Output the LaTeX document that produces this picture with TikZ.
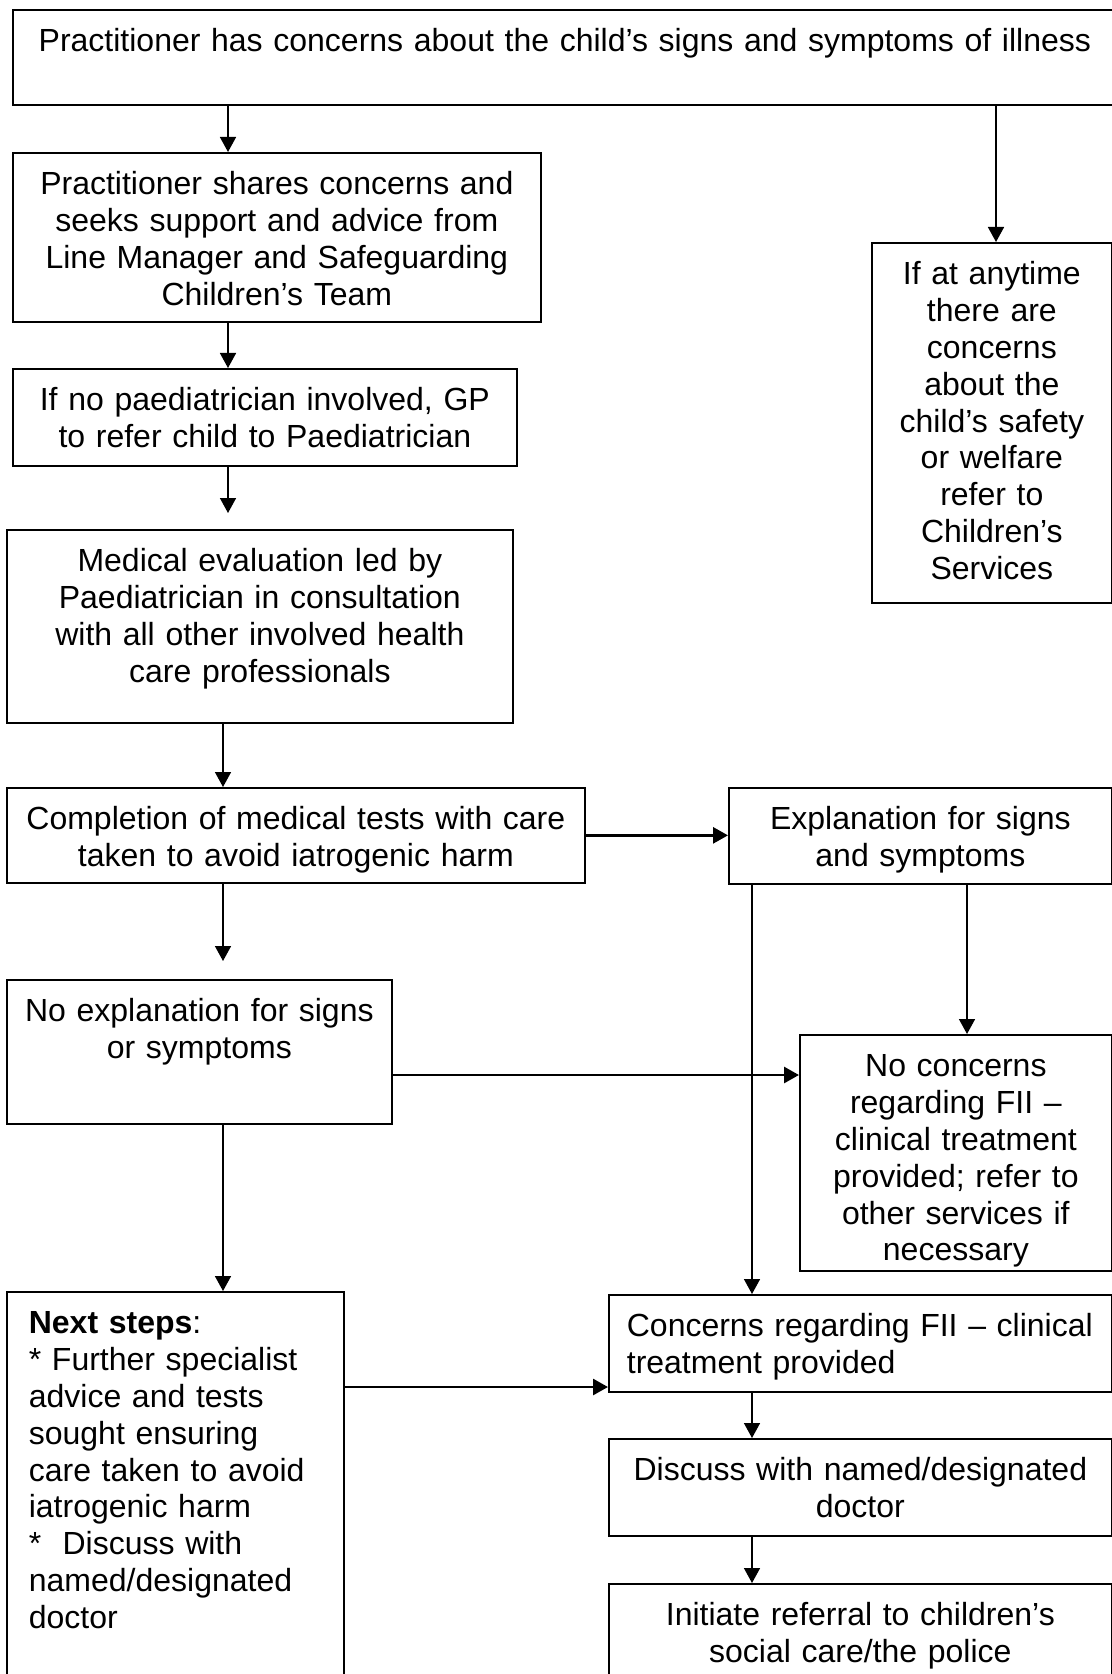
\documentclass[tikz,border=0pt]{standalone}
\usepackage{fontspec}
\setmainfont{Liberation Sans}
\usetikzlibrary{positioning, calc, arrows.meta}
\hyphenpenalty=10000

\begin{document}
\begin{tikzpicture}[x=0.5pt, y=-0.5pt, >={Triangle[length=7.5pt,width=8pt]},
  font=\fontsize{16pt}{18.4pt}\selectfont,
  box/.style={draw, line width=0.85pt, anchor=north west, inner xsep=6pt,
    inner ysep=0pt, align=center, text height=21pt},
  link/.style={->, line width=0.8pt},
  wide link/.style={->, line width=1.4pt}]

\useasboundingbox (0,0) rectangle (1112,1674);

% columns and rows for the connectors
\coordinate (col-a) at (228,0);
\coordinate (col-b) at (223,0);
\coordinate (col-c) at (996,0);
\coordinate (col-d) at (967,0);
\coordinate (col-e) at (752,0);
\coordinate (row-a) at (0,1075);
\coordinate (row-b) at (0,1387);

% boxes
\node [box, text width=540pt, text depth=26.5pt] (concern) at (12,9)
  {Practitioner has concerns about the child’s signs and symptoms of illness};
\node [box, text width=252pt, text depth=63.5pt] (share) at (12,152)
  {Practitioner shares concerns and\\seeks support and advice from\\Line Manager and Safeguarding\\Children’s Team};
\node [box, text width=240pt, text depth=27.5pt] (refer) at (12,368)
  {If no paediatrician involved, GP\\to refer child to Paediatrician};
\node [box, text width=108pt, text depth=159pt] (safety) at (871,242)
  {If at anytime\\there are\\concerns\\about the\\child’s safety\\or welfare\\refer to\\Children’s\\Services};
\node [box, text width=241pt, text depth=75.5pt] (medical) at (6,529)
  {Medical evaluation led by\\Paediatrician in consultation\\with all other involved health\\care professionals};
\node [box, text width=277pt, text depth=26.5pt] (tests) at (6,787)
  {Completion of medical tests with care\\taken to avoid iatrogenic harm};
\node [box, text width=179.5pt, text depth=27pt] (explain) at (728,787)
  {Explanation for signs\\and symptoms};
\node [box, text width=180.5pt, text depth=51pt] (noexplain) at (6,979)
  {No explanation for signs\\or symptoms};
\node [box, text width=144pt, text depth=97pt] (noconcern) at (799,1034)
  {No concerns\\regarding FII –\\clinical treatment\\provided; refer to\\other services if\\necessary};
\node [box, align=left, inner xsep=11pt, text width=146.5pt, text depth=183.5pt] (nextsteps) at (6,1291)
  {\textbf{Next steps}:\\{}* Further specialist\\advice and tests\\sought ensuring\\care taken to avoid\\iatrogenic harm\\{}*\ \ Discuss with\\named/designated\\doctor};
\node [box, align=left, inner xsep=9pt, text width=233.5pt, text depth=27.5pt] (fii) at (608,1294)
  {Concerns regarding FII – clinical\\treatment provided};
\node [box, text width=239.5pt, text depth=27.5pt] (discuss) at (608,1438)
  {Discuss with named/designated\\doctor};
\node [box, text width=239.5pt, text depth=32.5pt] (initiate) at (608,1583)
  {Initiate referral to children’s\\social care/the police};

% connectors
\draw [link] (concern.south -| col-a) -- (share.north -| col-a);
\draw [link] (share.south -| col-a) -- (refer.north -| col-a);
\draw [link] (refer.south -| col-a) -- ($(medical.north -| col-a)+(0,-16)$);
\draw [link] (concern.south -| col-c) -- (safety.north -| col-c);
\draw [link] (medical.south -| col-b) -- (tests.north -| col-b);
\draw [wide link] (tests.east) -- (explain.west |- tests.east);
\draw [link] (tests.south -| col-b) -- ($(noexplain.north -| col-b)+(0,-18)$);
\draw [link] (explain.south -| col-d) -- (noconcern.north -| col-d);
\draw [link] (explain.south -| col-e) -- (fii.north -| col-e);
\draw [wide link] (noexplain.east |- row-a) -- (noconcern.west |- row-a);
\draw [link] (noexplain.south -| col-b) -- (nextsteps.north -| col-b);
\draw [wide link] (nextsteps.east |- row-b) -- (fii.west |- row-b);
\draw [link] (fii.south -| col-e) -- (discuss.north -| col-e);
\draw [link] (discuss.south -| col-e) -- (initiate.north -| col-e);
\end{tikzpicture}
\end{document}
